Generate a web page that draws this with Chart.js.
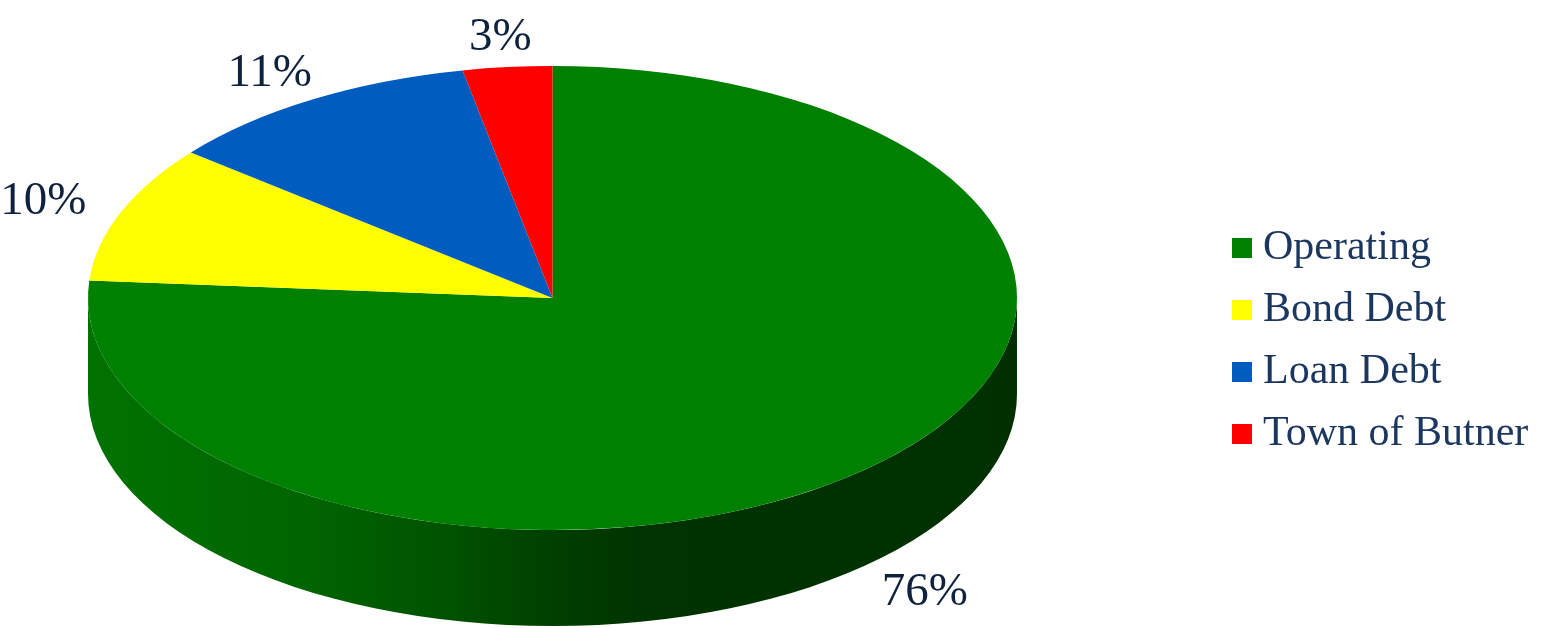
<!DOCTYPE html>
<html>
<head>
<meta charset="utf-8">
<script src="https://cdn.jsdelivr.net/npm/chart.js@4.4.1/dist/chart.umd.min.js"></script>
<style>
  html, body { margin: 0; padding: 0; background: #ffffff; }
  #wrap { width: 1550px; height: 628px; position: relative; }
</style>
</head>
<body>
<div id="wrap"><canvas id="c"></canvas></div>
<script>
// ---- data ----
const categories = ['Operating', 'Bond Debt', 'Loan Debt', 'Town of Butner'];
const shares = [76.2, 9.6, 11.1, 3.1];
const topColors = ['#008000', '#FFFF00', '#005CBF', '#FF0000'];
const sideColors = ['#006F00', '#8C8C00', '#003470', '#8C0000'];

// ---- layout / style ----
const GEOM = { cx: 552.5, cy: 298, rx: 464.5, ry: 232, depth: 96 };
const LABEL_FONT = '47px "Liberation Serif", "Times New Roman", serif';
const LABEL_COLOR = '#0E213D';
const LEGEND_FONT = '42px "Liberation Serif", "Times New Roman", serif';
const LEGEND_COLOR = '#1B365F';
const LEGEND = { x: 1232, y: 248, box: 20, gap: 11, step: 62 };

const total = shares.reduce((a, b) => a + b, 0);
const pctLabels = shares.map(v => Math.round(v / total * 100) + '%');

function frame(chart) {
  const el = chart.getDatasetMeta(0).data[0];
  const R = el.outerRadius;
  return { ox: el.x, oy: el.y, sx: GEOM.rx / R, sy: GEOM.ry / R };
}

function sideGradient(ctx) {
  const g = ctx.createLinearGradient(GEOM.cx - GEOM.rx, 0, GEOM.cx + GEOM.rx, 0);
  g.addColorStop(0.00, '#007200');
  g.addColorStop(0.23, '#006500');
  g.addColorStop(0.38, '#005300');
  g.addColorStop(0.50, '#003F00');
  g.addColorStop(0.60, '#003300');
  g.addColorStop(1.00, '#003000');
  return g;
}

const pie3d = {
  id: 'pie3d',
  beforeDatasetsDraw(chart) {
    const ctx = chart.ctx;
    const meta = chart.getDatasetMeta(0);
    const TWO_PI = Math.PI * 2;
    // side walls (front half only) for each slice, in ellipse space
    ctx.save();
    meta.data.forEach((arc, i) => {
      const p = arc.getProps(['startAngle', 'endAngle']);
      let s = p.startAngle, e = p.endAngle;
      const shift = Math.floor(s / TWO_PI) * TWO_PI;
      s -= shift; e -= shift;
      const ranges = [[s, e], [s - TWO_PI, e - TWO_PI], [s + TWO_PI, e + TWO_PI]];
      ranges.forEach(([a, b]) => {
        const a0 = Math.max(a, 0), a1 = Math.min(b, Math.PI);
        if (a1 <= a0) return;
        ctx.beginPath();
        ctx.ellipse(GEOM.cx, GEOM.cy, GEOM.rx, GEOM.ry, 0, a0, a1, false);
        ctx.ellipse(GEOM.cx, GEOM.cy + GEOM.depth, GEOM.rx, GEOM.ry, 0, a1, a0, true);
        ctx.closePath();
        ctx.fillStyle = i === 0 ? sideGradient(ctx) : sideColors[i];
        ctx.fill();
      });
    });
    ctx.restore();
    // squash the library's circular pie into the ellipse top face
    const f = frame(chart);
    ctx.save();
    ctx.translate(GEOM.cx, GEOM.cy);
    ctx.scale(f.sx, f.sy);
    ctx.translate(-f.ox, -f.oy);
  },
  afterDatasetsDraw(chart) {
    const ctx = chart.ctx;
    ctx.restore();
    const meta = chart.getDatasetMeta(0);
    ctx.save();
    ctx.font = LABEL_FONT;
    ctx.fillStyle = LABEL_COLOR;
    ctx.textAlign = 'center';
    ctx.textBaseline = 'middle';
    meta.data.forEach((arc, i) => {
      const p = arc.getProps(['startAngle', 'endAngle']);
      const mid = (p.startAngle + p.endAngle) / 2;
      const ux = Math.cos(mid), uy = Math.sin(mid);
      const ex = GEOM.cx + GEOM.rx * ux;
      const ey = GEOM.cy + GEOM.ry * uy + (uy > 0 ? GEOM.depth : 0);
      const txt = pctLabels[i];
      const w = ctx.measureText(txt).width;
      const h = 34;
      const vgap = uy > 0 ? 22 : 13;
      ctx.fillText(txt, ex + ux * (w / 2 + 40), ey + uy * (h / 2 + vgap));
    });
    ctx.restore();
  },
  afterDraw(chart) {
    const ctx = chart.ctx;
    const meta = chart.getDatasetMeta(0);
    ctx.save();
    ctx.font = LEGEND_FONT;
    ctx.textAlign = 'left';
    ctx.textBaseline = 'alphabetic';
    categories.forEach((name, i) => {
      const yc = LEGEND.y + i * LEGEND.step;
      ctx.fillStyle = meta.data[i].options.backgroundColor;
      ctx.fillRect(LEGEND.x, yc - LEGEND.box / 2, LEGEND.box, LEGEND.box);
      ctx.fillStyle = LEGEND_COLOR;
      ctx.fillText(name, LEGEND.x + LEGEND.box + LEGEND.gap, yc + 11);
    });
    ctx.restore();
  }
};

new Chart(document.getElementById('c'), {
  type: 'pie',
  data: {
    labels: categories,
    datasets: [{
      data: shares,
      backgroundColor: topColors,
      borderWidth: 0,
      clip: false
    }]
  },
  options: {
    responsive: true,
    maintainAspectRatio: false,
    animation: false,
    layout: { padding: 0 },
    plugins: {
      legend: { display: false },
      tooltip: { enabled: false },
      title: { display: false }
    }
  },
  plugins: [pie3d]
});
</script>
</body>
</html>
